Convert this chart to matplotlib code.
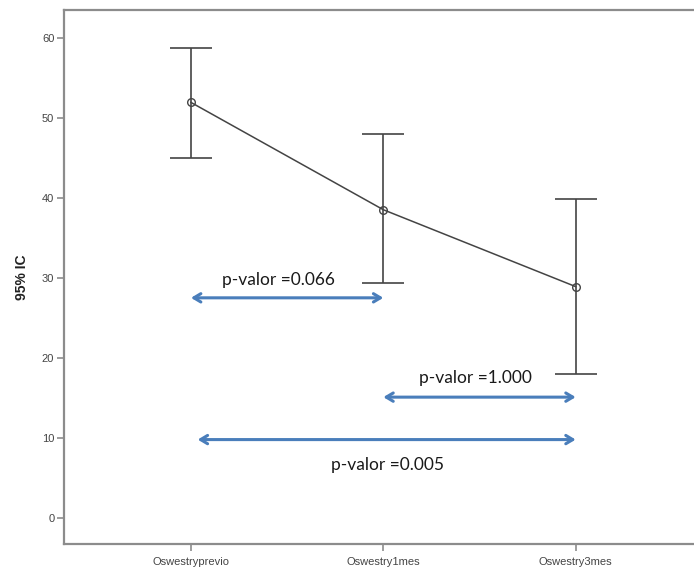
import matplotlib
matplotlib.use("Agg")

import matplotlib.pyplot as plt

# data
categories = ["Oswestryprevio", "Oswestry1mes", "Oswestry3mes"]
means = [51.9, 38.5, 28.9]
ci_upper = [58.7, 47.9, 39.9]
ci_lower = [45.0, 29.3, 18.0]

# pairwise comparisons: (start index, end index, arrow level, label)
comp_start = [0.0, 1.0, 0.035]
comp_end = [1.0, 2.0, 2.0]
comp_level = [27.5, 15.1, 9.8]
comp_labels = ["p-valor =0.066", "p-valor =1.000", "p-valor =0.005"]
label_x = [0.457, 1.48, 1.02]
label_y = [29.7, 17.5, 6.6]

SPINE = "#8c8c8c"
LINE = "#444444"
ARROW = "#4a7ebb"


def main() -> None:
    fig = plt.figure(figsize=(6.94, 5.69), dpi=100)
    ax = fig.add_axes([0.0922, 0.0439, 0.9078, 0.9394])

    x = list(range(len(categories)))
    err_low = [m - lo for m, lo in zip(means, ci_lower)]
    err_high = [hi - m for m, hi in zip(means, ci_upper)]

    ax.errorbar(
        x, means,
        yerr=[err_low, err_high],
        fmt="none", ecolor=LINE, elinewidth=1.2,
        capsize=15, capthick=1.2, zorder=2,
    )
    ax.plot(
        x, means,
        color=LINE, linewidth=1.1,
        marker="o", markersize=5.5,
        markerfacecolor="none", markeredgecolor=LINE, markeredgewidth=1.0,
        zorder=3,
    )

    for x0, x1, yv in zip(comp_start, comp_end, comp_level):
        ax.annotate(
            "", xy=(x1, yv), xytext=(x0, yv),
            arrowprops=dict(
                arrowstyle="<->,head_length=0.5,head_width=0.3",
                color=ARROW, lw=2.2, shrinkA=0, shrinkB=0,
            ),
        )
    for tx, ty, lab in zip(label_x, label_y, comp_labels):
        ax.text(tx, ty, lab, ha="center", va="center",
                fontsize=12.5, family="Lato", color="#1a1a1a")

    ax.set_xlim(-0.66, 2.615)
    ax.set_ylim(-3.24, 63.5)
    ax.set_xticks(x)
    ax.set_xticklabels(categories, family="Liberation Sans")
    ax.set_yticks([0, 10, 20, 30, 40, 50, 60])
    ax.set_yticklabels([0, 10, 20, 30, 40, 50, 60], family="Liberation Sans")

    ax.tick_params(axis="both", colors=SPINE, labelcolor="#444444",
                   labelsize=8, length=5, width=1.2, direction="out")
    ax.tick_params(axis="x", pad=4)
    ax.tick_params(axis="y", pad=2)

    for side in ["left", "bottom", "top"]:
        ax.spines[side].set_color(SPINE)
        ax.spines[side].set_linewidth(1.6)
    ax.spines["right"].set_visible(False)

    ax.set_ylabel("95% IC", fontsize=10, fontweight="bold", color="#222222",
                  family="Liberation Sans", labelpad=9)

    fig.savefig("out.png", dpi=100)
    plt.close(fig)


if __name__ == "__main__":
    main()
